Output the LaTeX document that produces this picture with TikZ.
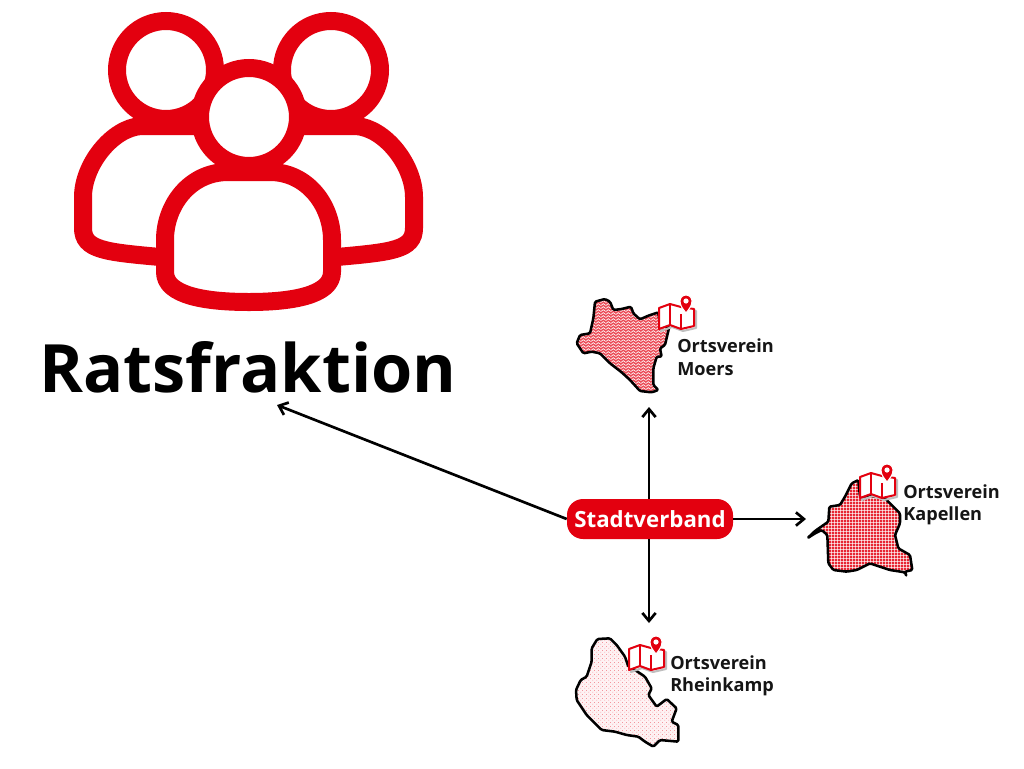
\documentclass[tikz,border=0pt]{standalone}
\usepackage{fontspec}
\setmainfont{Open Sans}
\usetikzlibrary{patterns,arrows.meta}
\definecolor{spdred}{HTML}{E3000F}
\definecolor{labelblack}{HTML}{151515}
\pgfdeclarepatternformonly{zigzagfine}{\pgfqpoint{0pt}{0pt}}{\pgfqpoint{3.6pt}{2.2pt}}{\pgfqpoint{3.6pt}{2.2pt}}{%
  \pgfsetlinewidth{.5pt}
  \pgfpathmoveto{\pgfqpoint{0pt}{.4pt}}
  \pgfpathlineto{\pgfqpoint{1.8pt}{1.8pt}}
  \pgfpathlineto{\pgfqpoint{3.6pt}{.4pt}}
  \pgfusepath{stroke}}
\pgfdeclarepatternformonly{gridfine}{\pgfqpoint{0pt}{0pt}}{\pgfqpoint{2.2pt}{2.2pt}}{\pgfqpoint{2.2pt}{2.2pt}}{%
  \pgfsetlinewidth{.3pt}
  \pgfpathmoveto{\pgfqpoint{0pt}{1.1pt}}
  \pgfpathlineto{\pgfqpoint{2.2pt}{1.1pt}}
  \pgfpathmoveto{\pgfqpoint{1.1pt}{0pt}}
  \pgfpathlineto{\pgfqpoint{1.1pt}{2.2pt}}
  \pgfusepath{stroke}}
\pgfdeclarepatternformonly{dotsfine}{\pgfqpoint{0pt}{0pt}}{\pgfqpoint{3pt}{3pt}}{\pgfqpoint{3pt}{3pt}}{%
  \pgfpathcircle{\pgfqpoint{.8pt}{.8pt}}{.35pt}
  \pgfpathcircle{\pgfqpoint{2.3pt}{2.3pt}}{.35pt}
  \pgfusepath{fill}}
\tikzset{
  iconline/.style={draw=spdred,line width=13.5pt},
  region/.style={draw=black,line width=1.9pt,line join=round,rounded corners=1pt},
  ortslabel/.style={anchor=west,inner sep=0pt,align=left,font=\fontsize{13.6}{16.8}\selectfont\bfseries,text=labelblack},
  arrowline/.style={-{Straight Barb[length=6pt,width=10pt]},line width=2pt,black},
  mapicon/.pic={
    \draw[black!25,line width=1.5pt,line join=round] (2,9)--(13,5)--(24,8)--(37,10)--(37,27)--(24,30)--(13,26)--(2,30)--cycle;
    \filldraw[draw=spdred,fill=white,line width=1.5pt,line join=round] (0,7)--(11,3)--(22,6)--(35,8)--(35,25)--(22,28)--(11,24)--(0,28)--cycle;
    \draw[spdred,line width=1.5pt] (11,3)--(11,24) (22,13)--(22,28);
    \filldraw[draw=white,fill=spdred,line width=.8pt] (27,12) .. controls (24,8) and (21,5) .. (21,0) arc[start angle=180,end angle=360,radius=6] .. controls (33,5) and (30,8) .. (27,12);
    \fill[white] (27,0) circle[radius=2.6];
  }
}
\begin{document}
\begin{tikzpicture}[x=.75pt,y=-.75pt]
    \useasboundingbox (0,0) rectangle (1024,768);
    \fill[white] (0,0) rectangle (1024,768);
    % people icon
    \draw[iconline] (166,70) circle[radius=49];
    \draw[iconline] (331,70) circle[radius=49];
    \draw[iconline] (205,126)--(141,126) .. controls (112,128) and (83,165) .. (83,197)--(83,228) .. controls (83,250) and (105,252) .. (160,257);
    \draw[iconline] (292,126)--(356,126) .. controls (385,128) and (414,165) .. (414,197)--(414,228) .. controls (414,250) and (392,252) .. (337,257);
    \filldraw[iconline,fill=white] (249,117) circle[radius=49];
    \filldraw[iconline,fill=white,line join=round] (228,172)--(270,172) .. controls (307,172) and (332,205) .. (332,240)--(332,272) .. controls (332,296) and (290,302) .. (249,302) .. controls (207,302) and (165,296) .. (165,272)--(165,240) .. controls (165,205) and (190,172) .. (228,172)--cycle;
    \node[inner sep=0pt,anchor=base,font=\fontsize{50}{50}\selectfont\bfseries,text=black] (ratsfraktion) at (248,392) {Ratsfraktion};
    % regions, in the pixels of a 3x crop
    \begin{scope}[shift={(560,285)},x=.25pt,y=-.25pt]
      \path[region,preaction={fill=spdred!70},pattern=zigzagfine,pattern color=white] (105,50)--(135,42)--(150,50)--(160,75)--(185,72)--(213,65)--(220,85)--(240,103)--(265,92)--(295,82)--(300,125)--(328,125)--(315,180)--(300,190)--(305,215)--(290,215)--(280,250)--(280,300)--(295,315)--(275,322)--(240,318)--(210,285)--(185,262)--(150,235)--(120,205)--(95,200)--(70,205)--(50,175)--(60,150)--(90,145)--(100,100)--cycle;
    \end{scope}
    \begin{scope}[shift={(790,455)},x=.25pt,y=-.25pt]
      \path[region,preaction={fill=spdred!85},pattern=gridfine,pattern color=white] (52,250)--(75,228)--(115,200)--(118,155)--(150,150)--(165,125)--(185,85)--(205,75)--(210,125)--(240,122)--(285,130)--(330,175)--(330,205)--(315,240)--(325,280)--(360,300)--(367,345)--(345,350)--(350,365)--(345,352)--(300,345)--(240,325)--(200,345)--(170,350)--(130,345)--(115,325)--(112,240)--(95,225)--(75,235)--cycle;
    \end{scope}
    \begin{scope}[shift={(560,625)},x=.25pt,y=-.25pt]
      \path[region,preaction={fill=spdred!5},pattern=dotsfine,pattern color=spdred!60] (112,42)--(150,40)--(170,60)--(195,95)--(205,125)--(225,135)--(255,155)--(275,190)--(265,210)--(290,245)--(320,222)--(350,250)--(335,290)--(355,300)--(355,350)--(300,345)--(280,365)--(255,350)--(235,335)--(200,330)--(165,320)--(125,315)--(100,290)--(80,270)--(50,225)--(48,195)--(62,165)--(80,155)--(95,110)--(95,70)--cycle;
    \end{scope}
    \pic at (659,301) {mapicon};
    \pic at (860,470) {mapicon};
    \pic at (629,642) {mapicon};
    \node[ortslabel] (moers) at (677,357) {Ortsverein\\Moers};
    \node[ortslabel] (kapellen) at (903,505) {Ortsverein\\Kapellen};
    \node[ortslabel] (rheinkamp) at (670,676) {Ortsverein\\Rheinkamp};
    % centre and arrows
    \node[fill=spdred,text=white,rounded corners=12pt,minimum width=124.5pt,minimum height=30pt,inner sep=0pt,font=\fontsize{16.7}{16.7}\selectfont\bfseries] (stadtverband) at (650,519) {Stadtverband};
    \coordinate (ratstip) at (277,405);
    \coordinate (moerstip) at (649,407);
    \coordinate (kapellentip) at (806,519);
    \coordinate (rheinkamptip) at (649,623);
    \draw[arrowline] (stadtverband.west)--(ratstip);
    \draw[arrowline] (stadtverband.north -| moerstip)--(moerstip);
    \draw[arrowline] (stadtverband.east)--(kapellentip);
    \draw[arrowline] (stadtverband.south -| rheinkamptip)--(rheinkamptip);
\end{tikzpicture}
\end{document}
